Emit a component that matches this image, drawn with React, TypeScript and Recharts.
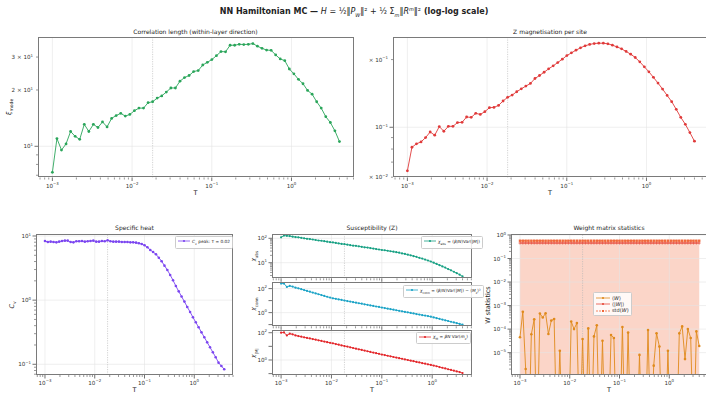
import React from 'react';
import { ComposedChart, Line, Area, XAxis, YAxis, ReferenceLine } from 'recharts';

// temperatures (log-spaced grid, 64 points from 1e-3 to 4)
const T = [
  0.001, 0.001141, 0.001301, 0.001484, 0.001693, 0.001931, 0.002203, 0.002513, 0.002867, 0.00327,
  0.00373, 0.004255, 0.004854, 0.005537, 0.006317, 0.007206, 0.00822, 0.009376, 0.0107, 0.0122,
  0.01392, 0.01588, 0.01811, 0.02065, 0.02356, 0.02688, 0.03066, 0.03498, 0.0399, 0.04551,
  0.05192, 0.05922, 0.06756, 0.07706, 0.08791, 0.1003, 0.1144, 0.1305, 0.1488, 0.1698,
  0.1937, 0.2209, 0.252, 0.2875, 0.3279, 0.3741, 0.4267, 0.4867, 0.5552, 0.6334,
  0.7225, 0.8242, 0.9399, 1.072, 1.223, 1.395, 1.591, 1.815, 2.071, 2.362,
  2.694, 3.073, 3.506, 4.0,
];
const T_PEAK = 0.01811;

const xiMode = [
  7.26, 11.0, 9.55, 10.3, 12.0, 11.3, 10.9, 13.1, 12.0, 13.1,
  12.6, 13.5, 12.7, 14.1, 14.6, 15.0, 14.5, 14.8, 15.5, 16.0,
  16.0, 17.1, 17.3, 18.1, 18.6, 19.5, 20.5, 20.5, 22.3, 23.3,
  23.9, 25.1, 25.4, 27.2, 28.1, 29.1, 30.5, 32.1, 32.0, 34.7,
  34.7, 35.1, 35.0, 35.1, 35.4, 34.3, 33.4, 32.7, 32.6, 30.8,
  29.3, 28.7, 25.9, 24.4, 22.8, 21.6, 19.9, 19.0, 17.3, 16.0,
  14.4, 13.4, 12.1, 10.6,
];
const mzSite = [
  0.064, 0.0815, 0.0844, 0.0861, 0.09, 0.0953, 0.0922, 0.1007, 0.096, 0.101,
  0.101, 0.1049, 0.1052, 0.1111, 0.1107, 0.1153, 0.1141, 0.1173, 0.1222, 0.1226,
  0.1251, 0.1309, 0.1359, 0.1391, 0.1439, 0.1483, 0.1524, 0.1566, 0.1648, 0.1699,
  0.1757, 0.1819, 0.1876, 0.194, 0.2008, 0.2084, 0.2142, 0.2202, 0.2256, 0.2303,
  0.2335, 0.2357, 0.2365, 0.2365, 0.235, 0.2318, 0.2277, 0.2232, 0.2173, 0.2114,
  0.2043, 0.1954, 0.1857, 0.1765, 0.1667, 0.1572, 0.1479, 0.1386, 0.13, 0.1202,
  0.1107, 0.1031, 0.0947, 0.0867,
];
const cv = [
  8.36, 8.06, 8.16, 8.06, 7.96, 8.16, 8.36, 8.46, 8.46, 8.06,
  7.96, 8.26, 8.26, 8.36, 8.16, 8.26, 8.36, 8.46, 8.16, 8.16,
  8.36, 8.26, 8.55, 8.26, 8.16, 8.16, 8.16, 8.06, 8.06, 8.06,
  7.96, 7.96, 7.87, 7.69, 7.5, 7.16, 6.66, 6.05, 5.63, 5.18,
  4.59, 4.03, 3.45, 2.95, 2.47, 2.04, 1.66, 1.37, 1.14, 0.949,
  0.783, 0.655, 0.54, 0.452, 0.377, 0.315, 0.264, 0.22, 0.184, 0.154,
  0.129, 0.106, 0.094, 0.0836,
];
const chiAbs = [
  110, 129, 126, 123, 117, 112, 110, 105, 100, 95.5,
  93.3, 89.1, 85.1, 81.3, 79.4, 75.9, 72.4, 69.2, 67.6, 64.6,
  61.7, 58.9, 57.5, 55.0, 52.5, 50.1, 49.0, 46.8, 44.7, 42.7,
  41.7, 39.8, 38.0, 36.3, 34.7, 33.1, 32.4, 30.9, 29.5, 28.2,
  26.9, 25.7, 24.0, 22.9, 21.4, 20.0, 18.6, 17.4, 15.8, 14.8,
  13.5, 12.3, 11.2, 10.0, 8.91, 7.94, 7.08, 6.31, 5.5, 4.9,
  4.27, 3.72, 3.24, 2.75,
];
const chiConn = [
  263, 263, 138, 166, 148, 120, 105, 89.1, 75.9, 64.6,
  55.0, 46.8, 39.8, 33.9, 28.8, 24.5, 20.9, 17.8, 15.5, 14.1,
  12.6, 11.5, 10.2, 9.12, 8.32, 7.41, 6.76, 6.03, 5.5, 4.9,
  4.47, 3.98, 3.63, 3.24, 2.95, 2.63, 2.4, 2.14, 1.95, 1.74,
  1.58, 1.41, 1.29, 1.15, 1.05, 0.933, 0.851, 0.759, 0.692, 0.617,
  0.562, 0.513, 0.457, 0.398, 0.347, 0.302, 0.263, 0.229, 0.2, 0.174,
  0.151, 0.132, 0.115, 0.1,
];
const chiM = [
  100, 105, 63.1, 85.1, 75.9, 63.1, 56.2, 51.3, 45.7, 41.7,
  38.0, 33.9, 30.9, 27.5, 25.1, 22.4, 20.4, 18.2, 16.6, 14.8,
  13.2, 11.7, 10.5, 9.55, 8.51, 7.59, 6.76, 6.03, 5.5, 4.9,
  4.37, 3.89, 3.47, 3.16, 2.82, 2.51, 2.29, 2.04, 1.86, 1.66,
  1.51, 1.35, 1.23, 1.1, 1.0, 0.891, 0.813, 0.724, 0.661, 0.589,
  0.537, 0.479, 0.437, 0.389, 0.347, 0.302, 0.269, 0.24, 0.209, 0.186,
  0.166, 0.145, 0.129, 0.11,
];
// mean weight, negative entries are clipped to the bottom on the log axis
const wMean = [
  4.5e-5, 5.5e-4, 2.0e-6, -5e-5, 6.0e-5, 2.6e-4, -5e-5, 4.6e-4, 3.1e-4, 4.7e-4,
  6.2e-5, 2.3e-4, 2.7e-4, -5e-5, 1.2e-5, -5e-5, -5e-5, -5e-5, 2.1e-4, 1.0e-4,
  1.8e-4, -5e-5, 3.8e-5, -5e-5, 1.07e-4, -5e-5, 4.9e-5, 1.45e-4, -5e-5, 3.2e-5,
  -5e-5, -5e-5, 5.6e-5, 4.2e-5, -5e-5, -5e-5, 1.23e-4, -5e-5, 7.1e-5, -5e-5,
  -5e-5, -5e-5, 8.0e-6, -5e-5, -5e-5, 9.1e-5, -5e-5, 2.8e-6, 6.6e-5, 1.8e-5,
  -5e-5, -5e-5, 1.2e-5, -5e-5, -5e-5, -5e-5, 6.6e-5, 1.3e-4, 5.3e-6, 1.0e-4,
  4.2e-5, -5e-5, 8.0e-5, 1.9e-5,
];
const wAbsMean = [
  0.455, 0.455, 0.455, 0.455, 0.455, 0.455, 0.455, 0.455, 0.455, 0.455,
  0.455, 0.455, 0.455, 0.455, 0.455, 0.455, 0.455, 0.455, 0.455, 0.455,
  0.455, 0.455, 0.455, 0.455, 0.455, 0.455, 0.455, 0.455, 0.455, 0.455,
  0.455, 0.455, 0.455, 0.455, 0.455, 0.455, 0.455, 0.455, 0.455, 0.455,
  0.455, 0.455, 0.455, 0.455, 0.455, 0.455, 0.455, 0.455, 0.455, 0.455,
  0.455, 0.455, 0.455, 0.455, 0.455, 0.455, 0.455, 0.455, 0.455, 0.455,
  0.455, 0.455, 0.455, 0.455,
];
const wStd = [
  0.57, 0.57, 0.57, 0.57, 0.57, 0.57, 0.57, 0.57, 0.57, 0.57,
  0.57, 0.57, 0.57, 0.57, 0.57, 0.57, 0.57, 0.57, 0.57, 0.57,
  0.57, 0.57, 0.57, 0.57, 0.57, 0.57, 0.57, 0.57, 0.57, 0.57,
  0.57, 0.57, 0.57, 0.57, 0.57, 0.57, 0.57, 0.57, 0.57, 0.57,
  0.57, 0.57, 0.57, 0.57, 0.57, 0.57, 0.57, 0.57, 0.57, 0.57,
  0.57, 0.57, 0.57, 0.57, 0.57, 0.57, 0.57, 0.57, 0.57, 0.57,
  0.57, 0.57, 0.57, 0.57,
];

type Lab = { v: number; pre?: string; e: string };
const xLabels: Lab[] = [
  { v: 1e-3, e: '−3' }, { v: 1e-2, e: '−2' }, { v: 1e-1, e: '−1' }, { v: 1, e: '0' },
];
const xiLabels: Lab[] = [{ v: 10, e: '1' }, { v: 20, pre: '2 × ', e: '1' }, { v: 30, pre: '3 × ', e: '1' }];
const mzLabels: Lab[] = [{ v: 0.06, pre: '× ', e: '−2' }, { v: 0.1, e: '−1' }, { v: 0.2, pre: '× ', e: '−1' }];
const cvLabels: Lab[] = [{ v: 0.1, e: '−1' }, { v: 1, e: '0' }, { v: 10, e: '1' }];
const chiAbsLabels: Lab[] = [{ v: 10, e: '1' }, { v: 100, e: '2' }];
const chiLabels: Lab[] = [{ v: 1, e: '0' }, { v: 100, e: '2' }];
const wLabels: Lab[] = [
  { v: 1e-5, e: '−5' }, { v: 1e-4, e: '−4' }, { v: 1e-3, e: '−3' },
  { v: 1e-2, e: '−2' }, { v: 1e-1, e: '−1' }, { v: 1, e: '0' },
];

const data = T.map((t, i) => ({
  T: t,
  xi: xiMode[i],
  m: mzSite[i],
  cv: cv[i],
  chiAbs: chiAbs[i],
  chiConn: chiConn[i],
  chiM: chiM[i],
  wMean: wMean[i],
  wAbs: wAbsMean[i],
  wStd: wStd[i],
}));

const FONT = '"DejaVu Sans", Verdana, sans-serif';
const INK = '#333';
const SPINE = '#7a7a7a';
const GRID = '#e4e4e4';
const X_DOMAIN = [0.00066, 6.0];

const GREEN = '#2aa55a';
const RED = '#e03a3a';
const PURPLE = '#7b45f0';
const TEAL = '#17a083';
const CYAN = '#1ba3c6';
const RED3 = '#e3262a';
const ORANGE = '#e08a1c';
const RED_ABS = '#e74c3c';
const STD = '#f0683a';

const near = (a: number, b: number) => Math.abs(a - b) / b < 1e-6;
const isDecade = (v: number) => Math.abs(Math.log10(v) - Math.round(Math.log10(v))) < 1e-6;

// all 1..9 x 10^k positions inside [lo, hi]
function logTicks(lo: number, hi: number) {
  const out: number[] = [];
  for (let e = Math.floor(Math.log10(lo)); e <= Math.ceil(Math.log10(hi)); e++) {
    for (let k = 1; k <= 9; k++) {
      const v = Number((k * Math.pow(10, e)).toPrecision(6));
      if (v >= lo && v <= hi) out.push(v);
    }
  }
  return out;
}

const Exp = ({ pre, e }: { pre?: string; e: string }) => (
  <>
    {pre}10<tspan dy={-2.6} fontSize={3.9}>{e}</tspan>
  </>
);

function XTick(props: any) {
  const { x, y, payload, labels } = props;
  const v = payload.value;
  const major = isDecade(v);
  const lab = (labels as Lab[]).find((l) => near(v, l.v));
  return (
    <g>
      <line x1={x} x2={x} y1={y} y2={y + (major ? 3.5 : 2)} stroke={INK} strokeWidth={major ? 0.7 : 0.5} />
      {lab && (
        <text x={x} y={y + 10} textAnchor="middle" fontSize={5.6} fill={INK} fontFamily={FONT}>
          <Exp e={lab.e} />
        </text>
      )}
    </g>
  );
}

function YTick(props: any) {
  const { x, y, payload, labels } = props;
  const v = payload.value;
  const major = isDecade(v);
  const lab = (labels as Lab[]).find((l) => near(v, l.v));
  return (
    <g>
      <line x1={x - (major ? 3.5 : 2)} x2={x} y1={y} y2={y} stroke={INK} strokeWidth={major ? 0.7 : 0.5} />
      {lab && (
        <text x={x - 5} y={y + 2.2} textAnchor="end" fontSize={5.6} fill={INK} fontFamily={FONT}>
          <Exp pre={lab.pre} e={lab.e} />
        </text>
      )}
    </g>
  );
}

type Rect = { x: number; y: number; w: number; h: number };

function Panel(props: {
  rect: Rect;
  yDomain: number[];
  yTicks: number[];
  yLabels: Lab[];
  yGrid: number[];
  showX?: boolean;
  children: React.ReactNode;
}) {
  const { rect, yDomain, yTicks, yLabels, yGrid, showX = true, children } = props;
  const xTicks = logTicks(X_DOMAIN[0], X_DOMAIN[1]);
  return (
    <div style={{ position: 'absolute', left: rect.x - 60, top: rect.y - 4 }}>
      <ComposedChart width={rect.w + 64} height={rect.h + 24} data={data} margin={{ top: 4, right: 4, bottom: 0, left: 0 }}>
        <XAxis
          dataKey="T" type="number" scale="log" domain={X_DOMAIN} allowDataOverflow
          ticks={xTicks} interval={0} tickLine={false} axisLine={false} tickSize={0} tickMargin={0} height={20}
          tick={(p: any) => <XTick {...p} labels={showX ? xLabels : []} />}
        />
        <YAxis
          type="number" scale="log" domain={yDomain} allowDataOverflow
          ticks={yTicks} interval={0} tickLine={false} axisLine={false} tickSize={0} tickMargin={0} width={60}
          tick={(p: any) => <YTick {...p} labels={yLabels} />}
        />
        {xLabels.map((l) => (
          <ReferenceLine key={'gx' + l.v} x={l.v} stroke={GRID} strokeWidth={0.6} />
        ))}
        {yGrid.map((v) => (
          <ReferenceLine key={'gy' + v} y={v} stroke={GRID} strokeWidth={0.6} />
        ))}
        <ReferenceLine x={T_PEAK} stroke="#b5b5b5" strokeWidth={0.6} strokeDasharray="1.2 1.2" />
        {children}
      </ComposedChart>
      <div
        style={{
          position: 'absolute', left: 60, top: 4, width: rect.w, height: rect.h,
          border: `0.8px solid ${SPINE}`, boxSizing: 'border-box', pointerEvents: 'none',
        }}
      />
    </div>
  );
}

const Txt = (p: { x: number; y: number; size?: number; bold?: boolean; rot?: boolean; children: React.ReactNode }) => (
  <div
    style={{
      position: 'absolute', left: p.x, top: p.y, whiteSpace: 'nowrap', lineHeight: 1,
      transform: `translate(-50%, -50%)${p.rot ? ' rotate(-90deg)' : ''}`,
      fontSize: p.size ?? 6, fontWeight: p.bold ? 'bold' : 'normal', color: '#222', fontFamily: FONT,
    }}
  >
    {p.children}
  </div>
);

const Swatch = ({ color, dash, sq, w = 12 }: { color: string; dash?: string; sq?: boolean; w?: number }) => (
  <svg width={w} height={4} style={{ verticalAlign: 'middle', marginRight: 2 }}>
    <line x1={0} y1={2} x2={w} y2={2} stroke={color} strokeWidth={0.8} strokeDasharray={dash} />
    {sq ? <rect x={w / 2 - 1} y={1} width={2} height={2} fill={color} /> : <circle cx={w / 2} cy={2} r={1.1} fill={color} />}
  </svg>
);

const LegendBox = (p: { x: number; y: number; size?: number; children: React.ReactNode }) => (
  <div
    style={{
      position: 'absolute', left: p.x, top: p.y, border: '0.5px solid #ccc', borderRadius: 1.5,
      background: 'rgba(255,255,255,0.85)', fontSize: p.size ?? 4.3, padding: '1.5px 2px', fontFamily: FONT,
      whiteSpace: 'nowrap', lineHeight: 1.25, color: '#222',
    }}
  >
    {p.children}
  </div>
);

const dotOf = (c: string, r = 1.3) => ({ r, fill: c, stroke: 'none' });

const wDot = (p: any) =>
  p.payload.wMean > 0 ? <circle key={p.index} cx={p.cx} cy={p.cy} r={1.3} fill={ORANGE} /> : <g key={p.index} />;
const plusDot = (p: any) => (
  <g key={p.index} stroke={RED_ABS} strokeWidth={0.7}>
    <line x1={p.cx - 1.5} x2={p.cx + 1.5} y1={p.cy} y2={p.cy} />
    <line x1={p.cx} x2={p.cx} y1={p.cy - 1.5} y2={p.cy + 1.5} />
  </g>
);
const sqDot = (p: any) => <rect key={p.index} x={p.cx - 1.2} y={p.cy - 1.2} width={2.4} height={2.4} fill={STD} />;

export default function App() {
  const A = { x: 38, y: 36.5, w: 315.5, h: 140.5 };
  const B = { x: 392.5, y: 36.5, w: 315.5, h: 140.5 };
  const C = { x: 36, y: 234, w: 197, h: 141 };
  const D1 = { x: 272.3, y: 234, w: 199.4, h: 44.3 };
  const D2 = { x: 272.3, y: 281.7, w: 199.4, h: 44.3 };
  const D3 = { x: 272.3, y: 330, w: 199.4, h: 45 };
  const E = { x: 511, y: 234, w: 197, h: 141 };

  return (
    <div style={{ position: 'absolute', left: 0, top: 0, width: 706, height: 394, overflow: 'hidden', background: '#fff', fontFamily: FONT }}>
      <Txt x={354} y={12} size={8} bold>
        NN Hamiltonian MC —{' '}
        <span style={{ fontWeight: 'normal' }}>
          <i>H</i> = ½‖<i>P</i><sub style={{ fontSize: 5 }}><i>W</i></sub>‖² + ½ Σ<sub style={{ fontSize: 5 }}><i>m</i></sub>‖<i>R</i>
          <sup style={{ fontSize: 5 }}><i>m</i></sup>‖²
        </span>{' '}
        (log-log scale)
      </Txt>

      <Txt x={195.5} y={31.5}>Correlation length (within-layer direction)</Txt>
      <Panel rect={A} yDomain={[6.81, 38.4]} yTicks={[7, 8, 9, 10, 20, 30]} yLabels={xiLabels} yGrid={[10]}>
        <Line dataKey="xi" stroke={GREEN} strokeWidth={0.9} dot={dotOf(GREEN, 1.4)} isAnimationActive={false} />
      </Panel>
      <Txt x={195.5} y={193} size={6.5}>T</Txt>
      <Txt x={10} y={107} size={6.5} rot>
        <i>ξ</i><sub style={{ fontSize: 4.5 }}>mode</sub>
      </Txt>

      <Txt x={550} y={31.5}>Z magnetisation per site</Txt>
      <Panel rect={B} yDomain={[0.0598, 0.252]} yTicks={[0.06, 0.07, 0.08, 0.09, 0.1, 0.2]} yLabels={mzLabels} yGrid={[0.1]}>
        <Line dataKey="m" stroke={RED} strokeWidth={0.9} dot={dotOf(RED, 1.4)} isAnimationActive={false} />
      </Panel>
      <Txt x={550} y={193} size={6.5}>T</Txt>

      <Txt x={134.5} y={228}>Specific heat</Txt>
      <Panel rect={C} yDomain={[0.0681, 10.74]} yTicks={logTicks(0.0681, 10.74)} yLabels={cvLabels} yGrid={[0.1, 1, 10]}>
        <Line dataKey="cv" stroke={PURPLE} strokeWidth={0.9} dot={dotOf(PURPLE, 1.3)} isAnimationActive={false} />
      </Panel>
      <LegendBox x={175} y={236}>
        <Swatch color={PURPLE} />
        <i>C</i><sub style={{ fontSize: 3 }}>v</sub> peak: T = 0.02
      </LegendBox>
      <Txt x={134.5} y={390} size={6.5}>T</Txt>
      <Txt x={13} y={304.5} size={6.5} rot>
        <i>C</i><sub style={{ fontSize: 4.5 }}>v</sub>
      </Txt>

      <Txt x={372} y={228}>Susceptibility (Z)</Txt>
      <Panel rect={D1} yDomain={[2.3, 150]} yTicks={logTicks(2.3, 150)} yLabels={chiAbsLabels} yGrid={[10, 100]} showX={false}>
        <Line dataKey="chiAbs" stroke={TEAL} strokeWidth={0.9} dot={dotOf(TEAL, 1.1)} isAnimationActive={false} />
      </Panel>
      <Panel rect={D2} yDomain={[0.0724, 355]} yTicks={[0.1, 1, 10, 100]} yLabels={chiLabels} yGrid={[1, 100]} showX={false}>
        <Line dataKey="chiConn" stroke={CYAN} strokeWidth={0.9} dot={dotOf(CYAN, 1.1)} isAnimationActive={false} />
      </Panel>
      <Panel rect={D3} yDomain={[0.0794, 158]} yTicks={[0.1, 1, 10, 100]} yLabels={chiLabels} yGrid={[1, 100]}>
        <Line dataKey="chiM" stroke={RED3} strokeWidth={0.9} dot={dotOf(RED3, 1.1)} isAnimationActive={false} />
      </Panel>
      <LegendBox x={421} y={236}>
        <Swatch color={TEAL} />
        <i>χ</i><sub style={{ fontSize: 3 }}>abs</sub> = (<i>β</i>/<i>N</i>)Var(|<i>M</i>|)
      </LegendBox>
      <LegendBox x={403} y={285}>
        <Swatch color={CYAN} />
        <i>χ</i><sub style={{ fontSize: 3 }}>conn</sub> = (<i>β</i>/<i>N</i>)Var(|<i>M</i>|) − ⟨<i>M</i><sub style={{ fontSize: 3 }}>z</sub>⟩²
      </LegendBox>
      <LegendBox x={416} y={331.5}>
        <Swatch color={RED3} />
        <i>χ</i><sub style={{ fontSize: 3 }}>M</sub> = <i>βN</i> Var(<i>m</i><sub style={{ fontSize: 3 }}>z</sub>)
      </LegendBox>
      <Txt x={372} y={390} size={6.5}>T</Txt>
      <Txt x={255} y={256} size={5.5} rot>
        <i>χ</i><sub style={{ fontSize: 4 }}>abs</sub>
      </Txt>
      <Txt x={255} y={304} size={5.5} rot>
        <i>χ</i><sub style={{ fontSize: 4 }}>conn</sub>
      </Txt>
      <Txt x={255} y={352.5} size={5.5} rot>
        <i>χ</i><sub style={{ fontSize: 4 }}>|M|</sub>
      </Txt>

      <Txt x={609} y={228}>Weight matrix statistics</Txt>
      <Panel rect={E} yDomain={[1.12e-6, 1.1]} yTicks={logTicks(1.12e-6, 1.1)} yLabels={wLabels} yGrid={[1e-5, 1e-4, 1e-3, 1e-2, 1e-1, 1]}>
        <Area
          dataKey={(d: any) => d.wMean + d.wStd} baseValue="dataMin" fill={STD} fillOpacity={0.28}
          stroke="none" isAnimationActive={false}
        />
        <Line
          dataKey={(d: any) => (d.wMean > 0 ? d.wMean : 1e-9)} stroke={ORANGE} strokeWidth={0.9}
          dot={wDot} isAnimationActive={false}
        />
        <Line dataKey="wAbs" stroke={RED_ABS} strokeWidth={0.9} dot={plusDot} isAnimationActive={false} />
        <Line dataKey="wStd" stroke={STD} strokeWidth={0.9} strokeDasharray="2 1.5" dot={sqDot} isAnimationActive={false} />
      </Panel>
      <LegendBox x={593} y={292} size={5}>
        <div><Swatch color={ORANGE} w={14} />⟨<i>W</i>⟩</div>
        <div><Swatch color={RED_ABS} w={14} />⟨|<i>W</i>|⟩</div>
        <div><Swatch color={STD} dash="2 1" sq w={14} />std(<i>W</i>)</div>
      </LegendBox>
      <Txt x={609} y={390} size={6.5}>T</Txt>
      <Txt x={488} y={304.5} size={6.5} rot>W statistics</Txt>
    </div>
  );
}
